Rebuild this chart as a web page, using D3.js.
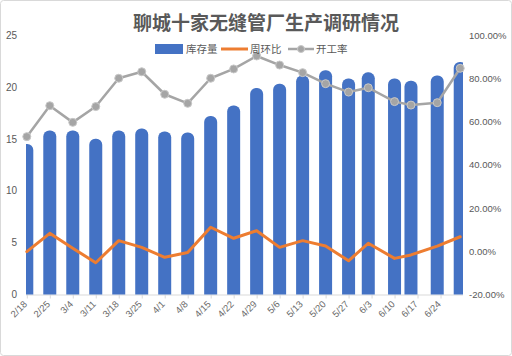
<!DOCTYPE html>
<html><head><meta charset="utf-8">
<script src="https://cdn.jsdelivr.net/npm/d3@7"></script>
<style>
html,body{margin:0;padding:0;background:#fff;}
svg{display:block;font-family:"Liberation Sans","Noto Sans CJK SC",sans-serif;}
</style></head><body>
<svg id="c" width="512" height="356"></svg>
<script>
const dates = ["2019-02-18","2019-02-25","2019-03-04","2019-03-11","2019-03-18","2019-03-25","2019-04-01","2019-04-08","2019-04-15","2019-04-22","2019-04-29","2019-05-06","2019-05-13","2019-05-20","2019-05-27","2019-06-02","2019-06-10","2019-06-15","2019-06-23","2019-06-30"];
const inventory = [14.5,15.8,15.8,15.0,15.8,16.0,15.7,15.6,17.2,18.2,19.9,20.3,21.1,21.6,20.8,21.4,20.8,20.6,21.1,22.4];
const weekChange = [-0.2,8.3,1.4,-5.3,4.9,1.8,-2.8,-0.6,11.1,6.0,9.5,1.8,4.9,2.4,-4.4,3.7,-3.3,-1.7,2.4,6.7];
const utilization = [53.0,67.3,59.6,66.9,80.0,83.0,72.6,68.4,80.0,84.3,90.3,86.1,82.6,77.5,73.6,75.6,69.2,67.6,68.7,84.6];
const tickDates = ["2019-02-18","2019-02-25","2019-03-04","2019-03-11","2019-03-18","2019-03-25","2019-04-01","2019-04-08","2019-04-15","2019-04-22","2019-04-29","2019-05-06","2019-05-13","2019-05-20","2019-05-27","2019-06-03","2019-06-10","2019-06-17","2019-06-24"];
const tickLabels = ["2/18","2/25","3/4","3/11","3/18","3/25","4/1","4/8","4/15","4/22","4/29","5/6","5/13","5/20","5/27","6/3","6/10","6/17","6/24"];
const leftTicks = [0,5,10,15,20,25];
const rightTicks = [-20,0,20,40,60,80,100];
const title = "聊城十家无缝管厂生产调研情况";
const seriesNames = ["库存量","周环比","开工率"];
const colors = {bar:"#4472C4", wow:"#ED7D31", util:"#A5A5A5"};

const parse = d3.utcParse("%Y-%m-%d");
const data = dates.map((d,i)=>({date:parse(d), inv:inventory[i], wow:weekChange[i], util:utilization[i]}));

const svg = d3.select("#c");
const L = 26, R = 463, T = 35, B = 294.5;

svg.append("rect").attr("x",0.5).attr("y",0.5).attr("width",511).attr("height",355)
  .attr("rx",3).attr("fill","#fff").attr("stroke","#d9d9d9");

const x = d3.scaleUtc().domain([parse("2019-02-18"), parse("2019-07-01")]).range([26.8, 463.5]);
const yL = d3.scaleLinear().domain([0,25]).range([B,T]);
const yR = d3.scaleLinear().domain([-20,100]).range([B,T]);

svg.append("defs").append("clipPath").attr("id","clip")
  .append("rect").attr("x",L).attr("y",0).attr("width",R-L).attr("height",B+1);

// axes
const gl = svg.append("g").attr("transform",`translate(${L},0)`)
  .call(d3.axisLeft(yL).tickValues(leftTicks).tickSize(0).tickPadding(9));
gl.select(".domain").remove();
gl.selectAll("text").attr("fill","#595959").style("font-size","10px");

const gr = svg.append("g").attr("transform",`translate(${R},0)`)
  .call(d3.axisRight(yR).tickValues(rightTicks).tickSize(0).tickPadding(6).tickFormat(d=>d.toFixed(2)+"%"));
gr.select(".domain").remove();
gr.selectAll("text").attr("fill","#595959").style("font-size","9.5px");

const gb = svg.append("g").attr("transform",`translate(0,${B})`)
  .call(d3.axisBottom(x).tickValues(tickDates.map(parse)).tickSize(4).tickFormat((d,i)=>tickLabels[i]));
gb.select(".domain").attr("d",`M${L},0.5H${R}`).attr("stroke","#d9d9d9");
gb.selectAll(".tick line").attr("stroke","#d9d9d9");
gb.selectAll("text").attr("fill","#6a6a6a").style("font-size","9.5px")
  .attr("text-anchor","end").attr("transform","translate(-2,8) rotate(-45)").attr("dy","0.35em").attr("y",0).attr("x",0);

// bars
const bw = 13, rr = 6;
const plot = svg.append("g").attr("clip-path","url(#clip)");
plot.selectAll("path.bar").data(data).join("path").attr("class","bar")
  .attr("fill",colors.bar)
  .attr("d",d=>{
    const cx = x(d.date), x0 = cx-bw/2, x1 = cx+bw/2, y0 = yL(0), yt = yL(d.inv);
    return `M${x0},${y0}V${yt+rr}A${rr},${rr} 0 0 1 ${x0+rr},${yt}H${x1-rr}A${rr},${rr} 0 0 1 ${x1},${yt+rr}V${y0}Z`;
  });

// lines
const lw = d3.line().x(d=>x(d.date)).y(d=>yR(d.wow));
svg.append("path").datum(data).attr("d",lw).attr("fill","none").attr("stroke",colors.wow)
  .attr("stroke-width",3).attr("stroke-linejoin","round").attr("stroke-linecap","round");
const lu = d3.line().x(d=>x(d.date)).y(d=>yR(d.util));
svg.append("path").datum(data).attr("d",lu).attr("fill","none").attr("stroke",colors.util)
  .attr("stroke-width",2.5).attr("stroke-linejoin","round");
svg.selectAll("circle.m").data(data).join("circle").attr("class","m")
  .attr("cx",d=>x(d.date)).attr("cy",d=>yR(d.util)).attr("r",4)
  .attr("fill",colors.util).attr("stroke","#c8c8c8").attr("stroke-width",1);

// title
svg.append("text").attr("x",266).attr("y",30).attr("text-anchor","middle")
  .attr("fill","#595959").style("font-size","19px").style("font-weight","bold")
  .style("font-family","'Noto Sans CJK SC',sans-serif").text(title);

// legend
const lg = svg.append("g").style("font-family","'Noto Sans CJK SC',sans-serif").style("font-size","10.5px");
lg.append("rect").attr("x",155).attr("y",44).attr("width",28).attr("height",10).attr("fill",colors.bar);
lg.append("text").attr("x",186).attr("y",49).attr("dy","0.35em").attr("fill","#595959").text(seriesNames[0]);
lg.append("line").attr("x1",221).attr("x2",248).attr("y1",49).attr("y2",49).attr("stroke",colors.wow).attr("stroke-width",3);
lg.append("text").attr("x",250).attr("y",49).attr("dy","0.35em").attr("fill","#595959").text(seriesNames[1]);
lg.append("line").attr("x1",288).attr("x2",314).attr("y1",49).attr("y2",49).attr("stroke",colors.util).attr("stroke-width",2.5);
lg.append("circle").attr("cx",301).attr("cy",49).attr("r",3.5).attr("fill",colors.util).attr("stroke","#c8c8c8");
lg.append("text").attr("x",316).attr("y",49).attr("dy","0.35em").attr("fill","#595959").text(seriesNames[2]);
</script></body></html>
